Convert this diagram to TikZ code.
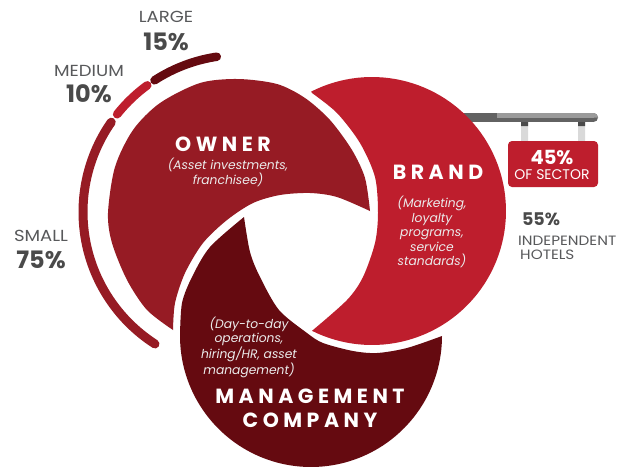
\documentclass[tikz,border=0pt]{standalone}
\usepackage{fontspec}
\setmainfont{Poppins}
\newfontfamily\spaced[LetterSpace=22]{Poppins}
\newfontfamily\wide[FakeStretch=1.13]{Poppins}
\definecolor{ownerc}{HTML}{961B24}
\definecolor{brandc}{HTML}{BE1E2D}
\definecolor{mgmtc}{HTML}{650A10}
\definecolor{greytext}{HTML}{58595B}
\definecolor{greybold}{HTML}{4A4A4A}
\definecolor{armlight}{HTML}{9A9A9A}
\definecolor{armdark}{HTML}{626262}
\tikzset{
  bigname/.style={white,font=\spaced\bfseries\fontsize{20.5}{24}\selectfont,align=center,inner sep=0pt},
  subtext/.style={white!92!black,font=\itshape\fontsize{12.3}{14.4}\selectfont,align=center,inner sep=0pt},
  sizelabel/.style={greytext,font=\wide\fontsize{16}{17}\selectfont,inner sep=0pt},
  pctlabel/.style={greybold,font=\bfseries\fontsize{24}{26}\selectfont,inner sep=0pt},
  ringbar/.style={line cap=round,line width=8.5pt}
}
\begin{document}
\begin{tikzpicture}[x=1pt,y=-1pt]
\useasboundingbox (0,0) rectangle (621,466);
\fill[white] (0,0) rectangle (621,466);
% sign arm
\fill[armdark] (593.5,117.5) circle[radius=4.5];
\fill[armlight] (593.5,113) arc[start angle=-90,end angle=0,radius=4.5] -- (598,117.5) -- (460,117.5) -- (460,113) -- cycle;
\fill[armlight] (497,113) rectangle (594,117.5);
\fill[armdark] (497,117.5) rectangle (594,122);
\fill[armdark] (460,113) rectangle (497,122);
% owner
\fill[ownerc] (173,330) -- plot[smooth] coordinates {(173,330) (147,310) (127,280) (112,243) (108,213) (115,167) (133,130) (160,103) (200,83) (238,79) (277,84) (305,98) (330,120) (352,150) (365,178) (370,211)}
 -- plot[smooth] coordinates {(370,211) (337,197) (310,193) (280,195) (253,203) (227,220) (203,243) (185,273) (175,303) (173,330)} -- cycle;
% brand
\fill[brandc] plot[domain=117:-116.6,samples=90] ({372+134*cos(\x)},{211-134*sin(\x)})
 -- plot[smooth] coordinates {(313,330) (347,300) (363,277) (375,243) (378,213) (375,177) (360,143) (337,113) (312,93)} -- cycle;
% management
\fill[mgmtc] (244,217) -- plot[smooth] coordinates {(244,217) (250,252) (260,277) (279,310) (307,333) (323,343) (353,351) (377,353) (407,348) (442,336)}
 -- plot[domain=0:-180,samples=90] ({311+131*cos(\x)},{336-131*sin(\x)})
 -- plot[smooth] coordinates {(180,336) (182,303) (192,277) (210,247) (244,217)} -- cycle;
% ring
\draw[ringbar,line width=9pt,color=ownerc] plot[domain=237.2:145.1,samples=60] ({240+157*cos(\x)},{212-157*sin(\x)});
\draw[ringbar,color=brandc] plot[domain=141.5:126.2,samples=20] ({240+157*cos(\x)},{212-157*sin(\x)});
\draw[ringbar,color=mgmtc] plot[domain=123:98.5,samples=20] ({240+157*cos(\x)},{212-157*sin(\x)});
% posts
\fill[white!85!black] (521,122) rectangle (528,141) (578,122) rectangle (585,141);
\fill[greybold] (521,122) rectangle (528,126) (578,122) rectangle (585,126);
\node[fill=brandc,rounded corners=4pt,minimum width=90pt,minimum height=46pt,inner sep=0pt] (signbox) at (553,164) {};
\node[white,font=\bfseries\fontsize{19.5}{22}\selectfont,inner sep=0pt] (signpct) at (552,157) {45\%};
\node[white,font=\fontsize{14}{16}\selectfont,inner sep=0pt] (signsub) at (552,175) {OF SECTOR};
% labels
\node[sizelabel] (large) at (166,17) {LARGE};
\node[pctlabel] (largep) at (166,42) {15\%};
\node[sizelabel] (medium) at (89,71) {MEDIUM};
\node[pctlabel] (mediump) at (89,94) {10\%};
\node[sizelabel] (small) at (41,236) {SMALL};
\node[pctlabel] (smallp) at (41,260) {75\%};
\node[bigname] (owner) at (223,144) {OWNER};
\node[subtext] (ownersub) at (228,172.5) {(Asset investments,\\franchisee)};
\node[bigname] (brand) at (438,172) {BRAND};
\node[subtext] (brandsub) at (432,232) {(Marketing,\\loyalty\\programs,\\service\\standards)};
\node[bigname] (mgmt) at (310,408.5) {MANAGEMENT\\COMPANY};
\node[subtext] (mgmtsub) at (249,347) {(Day-to-day\\operations,\\hiring/HR, asset\\management)};
\node[greybold,font=\bfseries\fontsize{17.5}{20}\selectfont,inner sep=0pt] (indep) at (541,219) {55\%};
\node[greytext,font=\wide\fontsize{13.5}{14}\selectfont,inner sep=0pt,anchor=west] (indept) at (518,241) {INDEPENDENT};
\node[greytext,font=\wide\fontsize{13.5}{14}\selectfont,inner sep=0pt,anchor=west] (hotels) at (520,255) {HOTELS};
\end{tikzpicture}
\end{document}
